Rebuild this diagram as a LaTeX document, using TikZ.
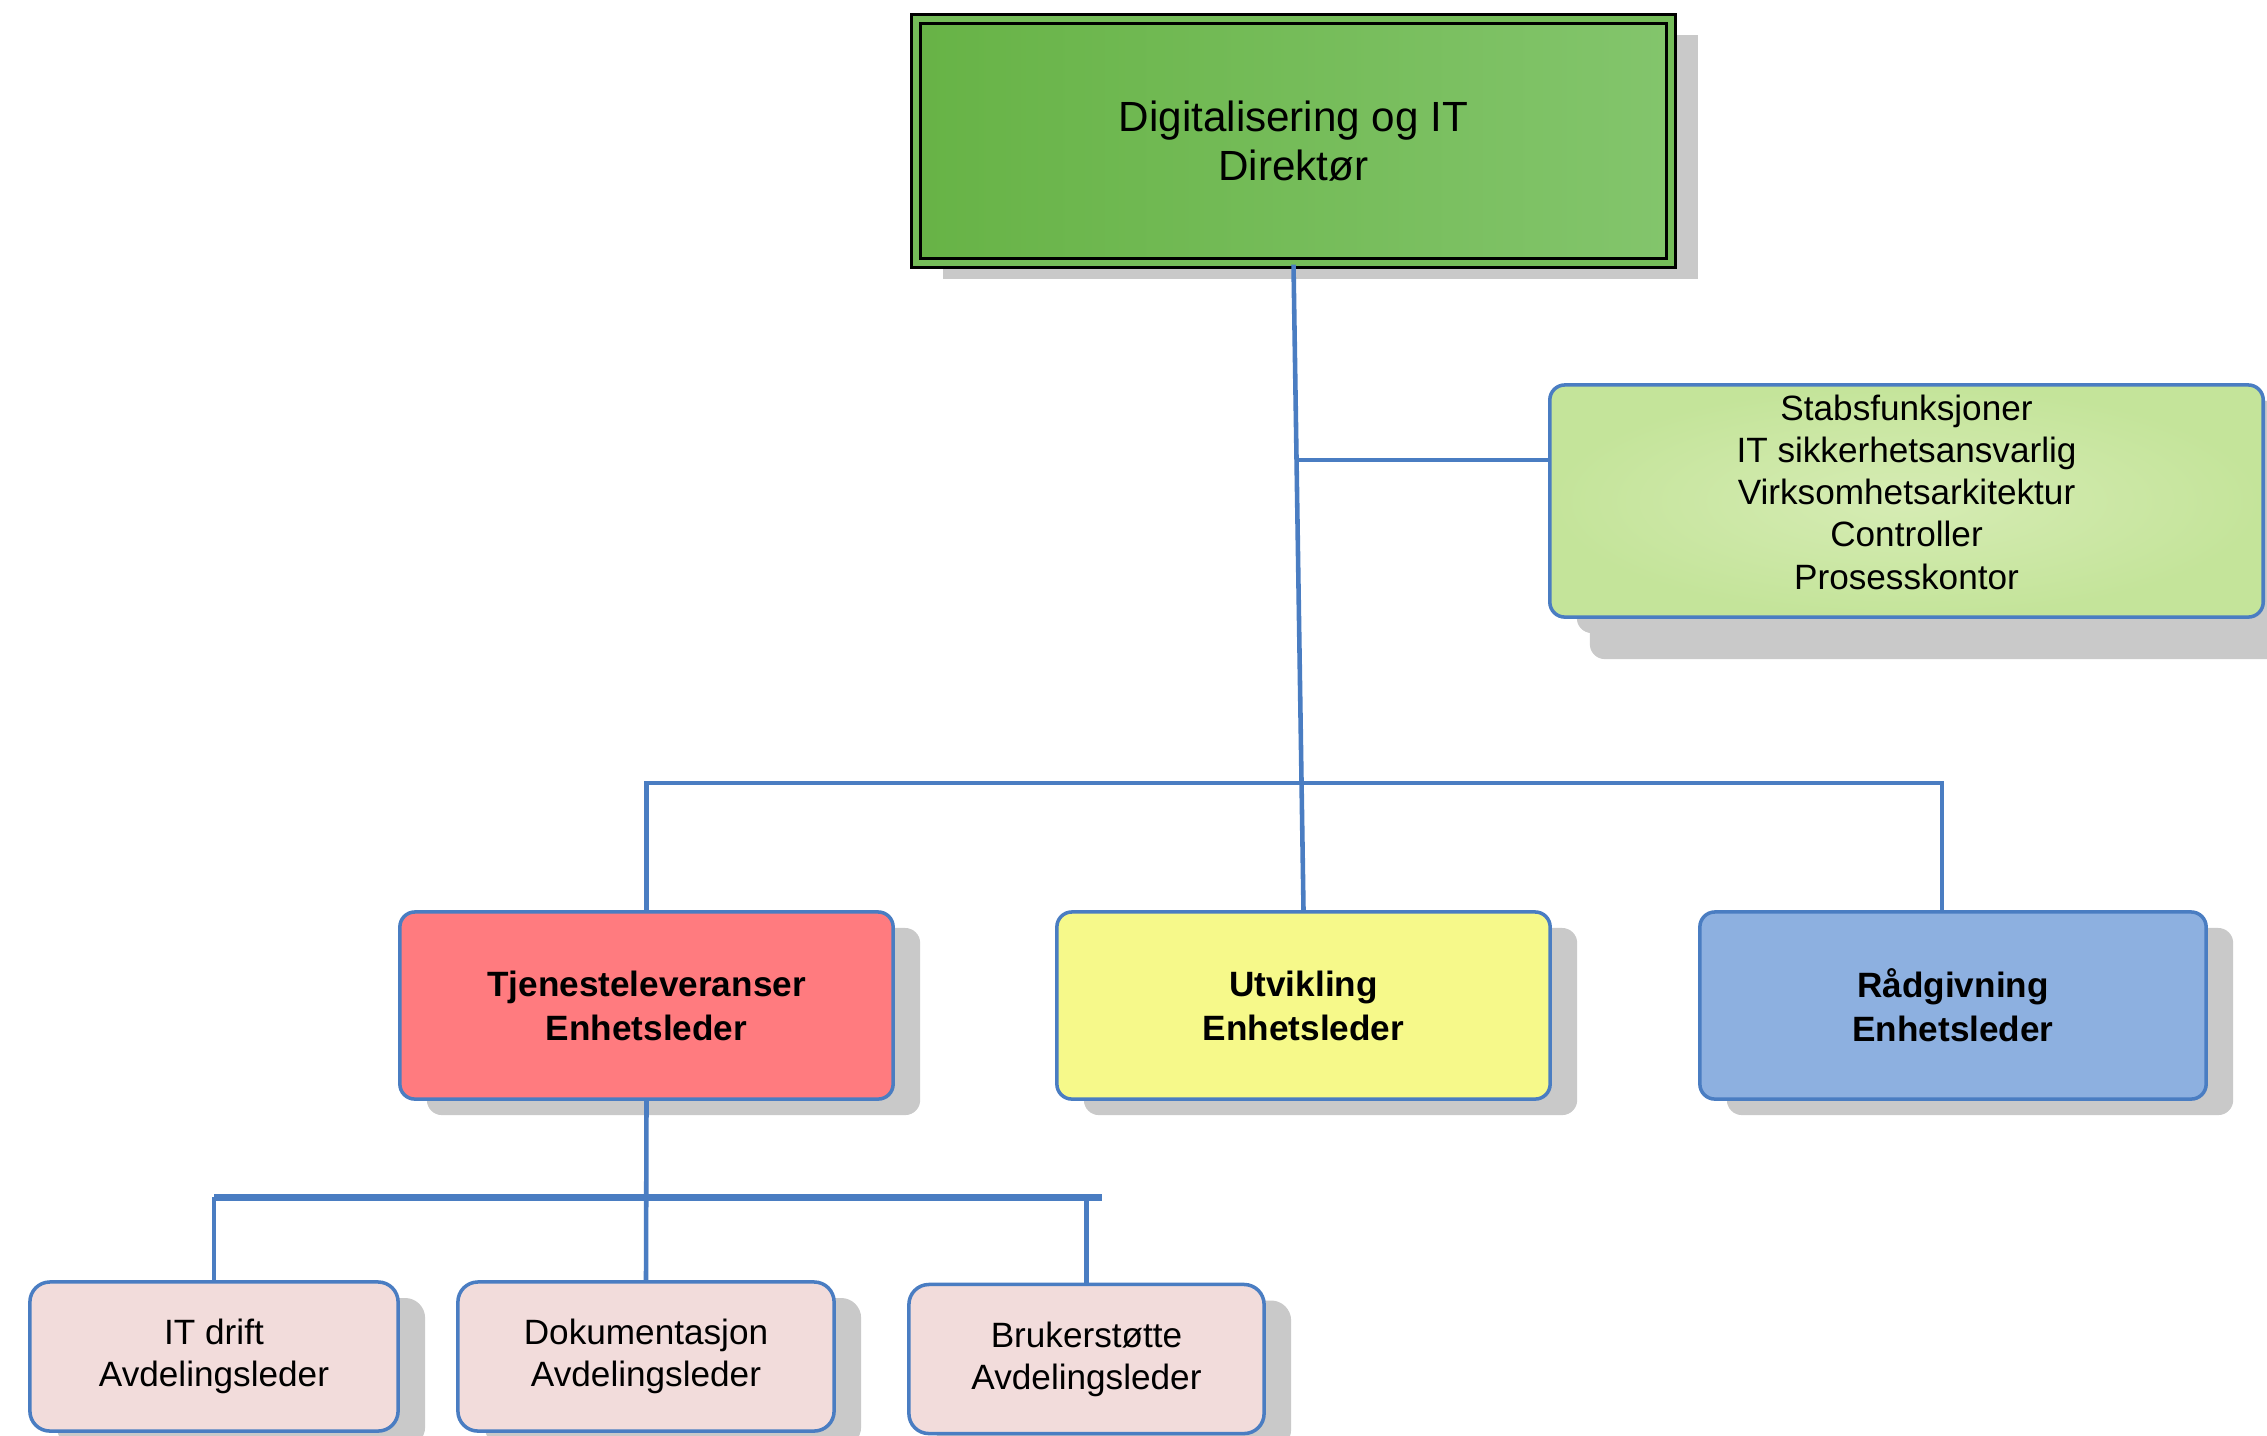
\documentclass[tikz,border=0pt]{standalone}
\usepackage{fontspec}
\setmainfont{Liberation Sans}
\usetikzlibrary{shadows}
\definecolor{linjeblaa}{RGB}{74,125,194}
\definecolor{skygge}{RGB}{201,201,201}
\definecolor{gronnV}{RGB}{103,179,70}
\definecolor{gronnH}{RGB}{131,197,108}
\definecolor{stabYtre}{RGB}{196,228,154}
\definecolor{stabIndre}{RGB}{214,236,180}
\definecolor{rodfarge}{RGB}{255,123,127}
\definecolor{gulfarge}{RGB}{246,249,138}
\definecolor{blaafarge}{RGB}{141,176,224}
\definecolor{avdrosa}{RGB}{242,220,219}

\begin{document}
\begin{tikzpicture}[x=0.01cm,y=-0.01cm,
    boks/.style={draw=linjeblaa, line width=1pt, rounded corners=0.15cm,
      align=center, inner sep=0pt,
      drop shadow={shadow xshift=0.27cm, shadow yshift=-0.16cm,
        fill=skygge, opacity=1}},
    enhet/.style={boks, minimum width=4.93cm, minimum height=1.87cm,
      font=\bfseries\fontsize{10}{12.5}\selectfont},
    avdeling/.style={boks, fill=avdrosa, rounded corners=0.2cm,
      minimum height=1.49cm, font=\fontsize{10}{12}\selectfont},
    linje/.style={draw=linjeblaa, line width=1.3pt}]
    \useasboundingbox (0,0) rectangle (2267,1435);

    % Top level
    \node[draw=black, line width=0.9pt, double=gronnV!50!gronnH,
          double distance=1.6pt, left color=gronnV, right color=gronnH,
          minimum width=7.55cm, minimum height=2.44cm, align=center,
          font=\fontsize{12}{14}\selectfont,
          drop shadow={shadow xshift=0.27cm, shadow yshift=-0.16cm,
            fill=skygge, opacity=1}]
          (dir) at (1293.5,141) {Digitalisering og IT\\Direktør};

    % Staff functions
    \node[boks, inner color=stabIndre, outer color=stabYtre,
          minimum width=7.13cm, minimum height=2.32cm, text depth=0.18cm,
          font=\fontsize{10}{12}\selectfont,
          drop shadow={shadow xshift=0.4cm, shadow yshift=-0.42cm,
            fill=skygge, opacity=1}]
          (stab) at (1906.5,501) {Stabsfunksjoner\\IT sikkerhetsansvarlig\\
          Virksomhetsarkitektur\\Controller\\Prosesskontor};

    % Units
    \node[enhet, fill=rodfarge] (tje) at (646.5,1005.5)
          {Tjenesteleveranser\\Enhetsleder};
    \node[enhet, fill=gulfarge] (utv) at (1303.5,1005.5)
          {Utvikling\\Enhetsleder};
    \node[enhet, fill=blaafarge, minimum width=5.06cm] (rad) at (1953,1005.5)
          {Rådgivning\\Enhetsleder};

    % Departments
    \node[avdeling, minimum width=3.68cm] (itd) at (214,1356.5)
          {IT drift\\Avdelingsleder};
    \node[avdeling, minimum width=3.76cm] (dok) at (646,1356.5)
          {Dokumentasjon\\Avdelingsleder};
    \node[avdeling, minimum width=3.55cm] (bru) at (1086.5,1359)
          {Brukerstøtte\\Avdelingsleder};

    % Draw the connectors
    \coordinate (stabgren) at (1296,460);
    \coordinate (buss) at (0,783);
    \coordinate (avdbuss) at (0,1197);
    \coordinate (avdslutt) at (1102,1197);
    \draw[linje] (dir.south) -- (utv.north);
    \draw[linje] (stabgren) -- (stabgren -| stab.west);
    \draw[linje] (tje.north) -- (tje.north |- buss)
          -- ([xshift=-0.11cm]rad.north |- buss) -- ([xshift=-0.11cm]rad.north);
    \draw[linje] (tje.south) -- (dok.north);
    \draw[linje, line width=2pt] (itd.north |- avdbuss) -- (avdslutt);
    \draw[linje] (itd.north) -- (itd.north |- avdbuss);
    \draw[linje] (bru.north) -- (bru.north |- avdbuss);

\end{tikzpicture}
\end{document}
